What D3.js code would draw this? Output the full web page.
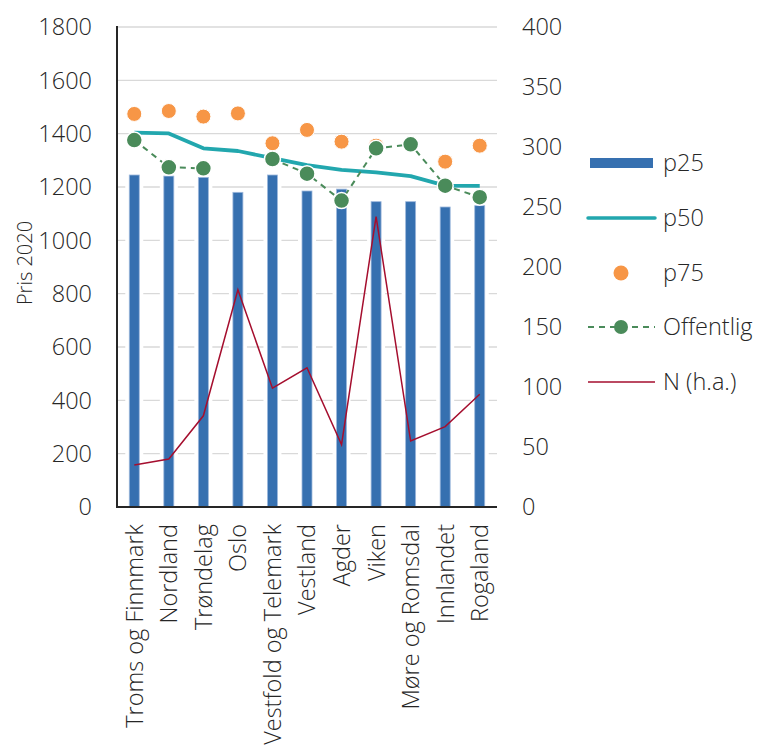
<!DOCTYPE html>
<html><head><meta charset="utf-8">
<script src="https://cdn.jsdelivr.net/npm/d3@7/dist/d3.min.js"></script>
<style>
body{margin:0;background:#fff;}
text{font-family:"Open Sans",sans-serif;font-weight:300;fill:#262626;}
</style></head><body>
<svg id="c" width="772" height="749"></svg>
<script>
const categories = ["Troms og Finnmark","Nordland","Trøndelag","Oslo","Vestfold og Telemark","Vestland","Agder","Viken","Møre og Romsdal","Innlandet","Rogaland"];
const p25 = [1245,1241,1236,1180,1245,1185,1192,1145,1145,1125,1130];
const p50 = [1404,1401,1345,1335,1308,1282,1264,1255,1241,1205,1204];
const p75 = [1474,1485,1464,1476,1364,1414,1370,1355,1360,1295,1355];
const offentlig = [1376,1274,1270,null,1305,1250,1149,1345,1360,1205,1162];
const nHa = [35,40,76,181,99,116,52,242,55,67,94];
const leftTicks = [0,200,400,600,800,1000,1200,1400,1600,1800];
const rightTicks = [0,50,100,150,200,250,300,350,400];
const legendItems = ["p25","p50","p75","Offentlig","N (h.a.)"];

const svg = d3.select("#c");
const L = 117, R = 497, T = 27, B = 507;
const x = d3.scaleBand().domain(categories).range([L,R]);
const yL = d3.scaleLinear().domain([0,1800]).range([B,T]);
const yR = d3.scaleLinear().domain([0,400]).range([B,T]);
const cx = d => x(d) + x.bandwidth()/2;
const cBlue="#3670B0", cTeal="#22A7AE", cOrange="#F79646", cGreen="#4A8B5A", cRed="#A50E2E";

// gridlines
svg.append("g").selectAll("line").data(leftTicks.filter(d=>d>0)).join("line")
  .attr("x1",L).attr("x2",R).attr("y1",d=>yL(d)).attr("y2",d=>yL(d))
  .attr("stroke","#d9d9d9").attr("stroke-width",1.3);

// bars with white margin
const bw = 10;
svg.append("g").selectAll("rect").data(categories).join("rect")
  .attr("x",d=>cx(d)-bw/2-4).attr("width",bw+8)
  .attr("y",(d,i)=>yL(p25[i])).attr("height",(d,i)=>B-yL(p25[i]))
  .attr("fill","#fff");
svg.append("g").selectAll("rect").data(categories).join("rect")
  .attr("x",d=>cx(d)-bw/2).attr("width",bw)
  .attr("y",(d,i)=>yL(p25[i])).attr("height",(d,i)=>B-yL(p25[i]))
  .attr("fill",cBlue).attr("stroke","#9db8dc").attr("stroke-width",0.8);

// N line (right axis)
svg.append("path").datum(nHa)
  .attr("d",d3.line().x((d,i)=>cx(categories[i])).y(d=>yR(d)))
  .attr("fill","none").attr("stroke",cRed).attr("stroke-width",1.5);

// p50 line
svg.append("path").datum(p50)
  .attr("d",d3.line().x((d,i)=>cx(categories[i])).y(d=>yL(d)))
  .attr("fill","none").attr("stroke",cTeal).attr("stroke-width",3.8).attr("stroke-linejoin","round");

// p75 points
svg.append("g").selectAll("circle").data(p75).join("circle")
  .attr("cx",(d,i)=>cx(categories[i])).attr("cy",d=>yL(d)).attr("r",7.5)
  .attr("fill",cOrange).attr("stroke","#fff").attr("stroke-width",1);

// Offentlig dashed line with gaps
svg.append("path").datum(offentlig)
  .attr("d",d3.line().defined(d=>d!==null).x((d,i)=>cx(categories[i])).y(d=>yL(d)))
  .attr("fill","none").attr("stroke",cGreen).attr("stroke-width",2).attr("stroke-dasharray","6,5");
svg.append("g").selectAll("circle").data(offentlig.map((v,i)=>({v,i})).filter(d=>d.v!==null)).join("circle")
  .attr("cx",d=>cx(categories[d.i])).attr("cy",d=>yL(d.v)).attr("r",8)
  .attr("fill",cGreen).attr("stroke","#fff").attr("stroke-width",1.5);

// axes lines
svg.append("line").attr("x1",L).attr("x2",L).attr("y1",T-1).attr("y2",B+1).attr("stroke","#262626").attr("stroke-width",2);
svg.append("line").attr("x1",L-1).attr("x2",R).attr("y1",B).attr("y2",B).attr("stroke","#262626").attr("stroke-width",2);

// left tick labels
svg.append("g").selectAll("text").data(leftTicks).join("text")
  .attr("x",92).attr("y",d=>yL(d)).attr("dy","0.36em").attr("text-anchor","end")
  .style("font-size","23.5px").text(d=>d);
// right tick labels
svg.append("g").selectAll("text").data(rightTicks).join("text")
  .attr("x",522).attr("y",d=>yR(d)).attr("dy","0.36em").attr("text-anchor","start")
  .style("font-size","23.5px").text(d=>d);

// y title
svg.append("text").attr("transform","translate(32,263) rotate(-90)").attr("text-anchor","middle")
  .style("font-size","20px").text("Pris 2020");

// x labels
svg.append("g").selectAll("text").data(categories).join("text")
  .attr("transform",d=>`translate(${cx(d)},524) rotate(-90)`).attr("dy","0.36em")
  .attr("text-anchor","end").style("font-size","23.5px").text(d=>d);

// legend
const lg = svg.append("g");
const ly = [163,218,273,327,382];
const lx0 = 588, lx1 = 655, lmid = 621;
lg.append("rect").attr("x",590).attr("y",ly[0]-5).attr("width",63).attr("height",10).attr("fill",cBlue);
lg.append("line").attr("x1",lx0).attr("x2",lx1).attr("y1",ly[1]).attr("y2",ly[1]).attr("stroke",cTeal).attr("stroke-width",3.5).attr("stroke-linecap","round");
lg.append("circle").attr("cx",lmid).attr("cy",ly[2]).attr("r",7.5).attr("fill",cOrange);
lg.append("line").attr("x1",lx0).attr("x2",lx1).attr("y1",ly[3]).attr("y2",ly[3]).attr("stroke",cGreen).attr("stroke-width",2).attr("stroke-dasharray","6,5");
lg.append("circle").attr("cx",lmid).attr("cy",ly[3]).attr("r",7).attr("fill",cGreen);
lg.append("line").attr("x1",lx0).attr("x2",lx1).attr("y1",ly[4]).attr("y2",ly[4]).attr("stroke",cRed).attr("stroke-width",1.5);
lg.selectAll("text.l").data(legendItems).join("text").attr("class","l")
  .attr("x",663).attr("y",(d,i)=>ly[i]).attr("dy","0.36em").style("font-size","23.5px").text(d=>d);
</script></body></html>
